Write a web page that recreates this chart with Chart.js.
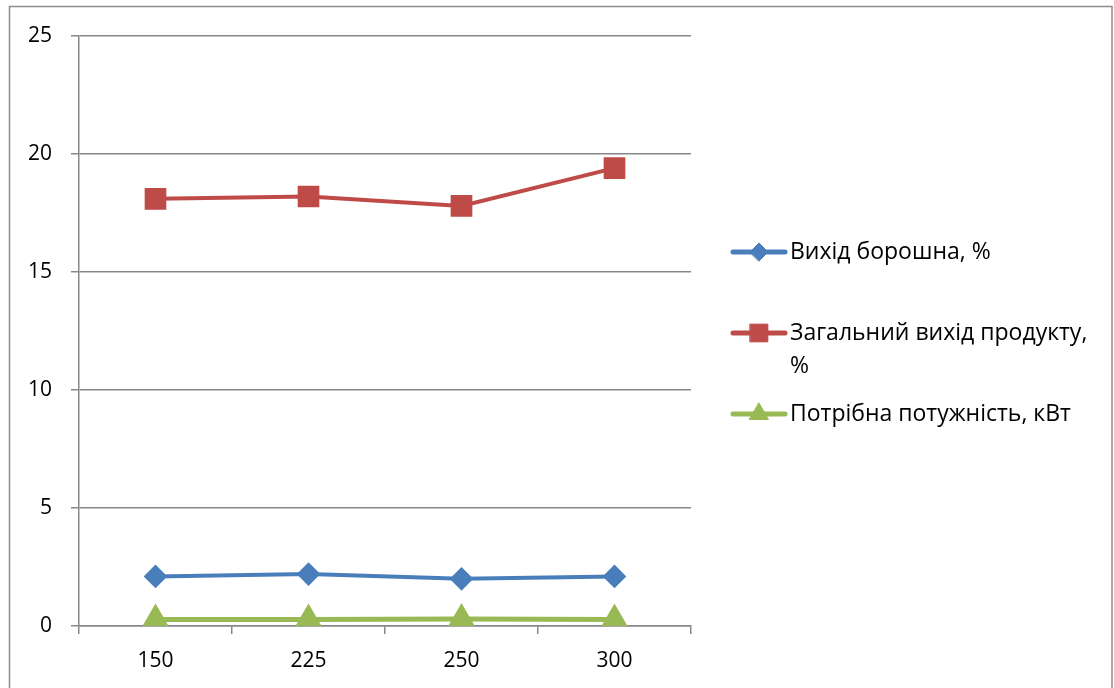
<!DOCTYPE html>
<html><head><meta charset="utf-8">
<script src="https://cdn.jsdelivr.net/npm/chart.js@4/dist/chart.umd.min.js"></script>
<style>html,body{margin:0;padding:0;background:#fff}#wrap{position:relative;width:1114px;height:688px}</style>
</head><body><div id="wrap"><canvas id="c" width="1114" height="688"></canvas></div>
<script>
const categories = ['150', '225', '250', '300'];
const flourYield = [2.1, 2.2, 2.0, 2.1];
const totalYield = [18.1, 18.2, 17.8, 19.4];
const powerNeeded = [0.28, 0.28, 0.3, 0.28];
const seriesNames = ['Вихід борошна, %', ['Загальний вихід продукту,', '%'], 'Потрібна потужність, кВт'];
const yTicks = [0, 5, 10, 15, 20, 25];

const FONT = '"Open Sans", "Noto Sans", sans-serif';
const GRID = '#888888';

const framePlugin = {
  id: 'frame',
  afterDraw(chart) {
    const ctx = chart.ctx;
    ctx.save();
    ctx.strokeStyle = '#8c8c8c';
    ctx.lineWidth = 1.5;
    ctx.beginPath();
    ctx.moveTo(9.5, 700); ctx.lineTo(9.5, 6.5); ctx.lineTo(1112, 6.5); ctx.lineTo(1112, 700);
    ctx.stroke();
    ctx.restore();
  }
};

const legendPlugin = {
  id: 'customLegend',
  afterDraw(chart) {
    const ctx = chart.ctx;
    const ys = [252, 333, 414];
    ctx.save();
    chart.data.datasets.forEach((ds, i) => {
      const y = ys[i];
      ctx.strokeStyle = ds.borderColor;
      ctx.lineWidth = 5;
      ctx.lineCap = 'round';
      ctx.beginPath(); ctx.moveTo(733, y); ctx.lineTo(785, y); ctx.stroke();
      ctx.fillStyle = ds.pointBackgroundColor;
      ctx.strokeStyle = ds.pointBackgroundColor;
      ctx.lineWidth = 1;
      Chart.helpers.drawPoint(ctx, {pointStyle: ds.pointStyle, rotation: 0, borderWidth: 1, radius: ds.pointRadius}, 759, y);
      ctx.fillStyle = '#000';
      ctx.font = '23px ' + FONT;
      ctx.textBaseline = 'middle';
      ctx.textAlign = 'left';
      const lines = Array.isArray(seriesNames[i]) ? seriesNames[i] : [seriesNames[i]];
      lines.forEach((t, k) => ctx.fillText(t, 790, y + k * 33));
    });
    ctx.restore();
  }
};

new Chart(document.getElementById('c'), {
  type: 'line',
  data: {
    labels: categories,
    datasets: [
      {label: 'Вихід борошна, %', data: flourYield, borderColor: '#4A7EBB', backgroundColor: '#4A7EBB',
       pointBackgroundColor: '#4A7EBB', pointBorderColor: '#4A7EBB', pointStyle: 'rectRot', pointRadius: 9, borderWidth: 4},
      {label: 'Загальний вихід продукту, %', data: totalYield, borderColor: '#BE4B48', backgroundColor: '#BE4B48',
       pointBackgroundColor: '#BE4B48', pointBorderColor: '#BE4B48', pointStyle: 'rect', pointRadius: 12.5, borderWidth: 4},
      {label: 'Потрібна потужність, кВт', data: powerNeeded, borderColor: '#98B954', backgroundColor: '#98B954',
       pointBackgroundColor: '#98B954', pointBorderColor: '#98B954', pointStyle: 'triangle', pointRadius: 11, borderWidth: 5}
    ]
  },
  options: {
    responsive: false,
    animation: false,
    layout: {padding: {left: 0, top: 36, right: 1114 - 691, bottom: 0}},
    plugins: {legend: {display: false}, tooltip: {enabled: false}},
    elements: {line: {tension: 0}},
    scales: {
      x: {
        offset: true,
        grid: {offset: true, drawOnChartArea: false, drawTicks: true, tickLength: 8, color: GRID, lineWidth: 1.5},
        border: {display: true, color: GRID, width: 1.5},
        ticks: {color: '#000', font: {family: FONT, size: 21}, padding: 14, maxRotation: 0},
        afterFit(s) { s.height = 62; }
      },
      y: {
        min: 0, max: 25,
        afterBuildTicks(s) { s.ticks = yTicks.map(v => ({value: v})); },
        grid: {color: GRID, lineWidth: 1.5, tickLength: 8},
        border: {display: true, color: GRID, width: 1.5},
        ticks: {color: '#000', font: {family: FONT, size: 21}, padding: 19},
        afterFit(s) { s.width = 79; }
      }
    }
  },
  plugins: [framePlugin, legendPlugin]
});
</script></body></html>
